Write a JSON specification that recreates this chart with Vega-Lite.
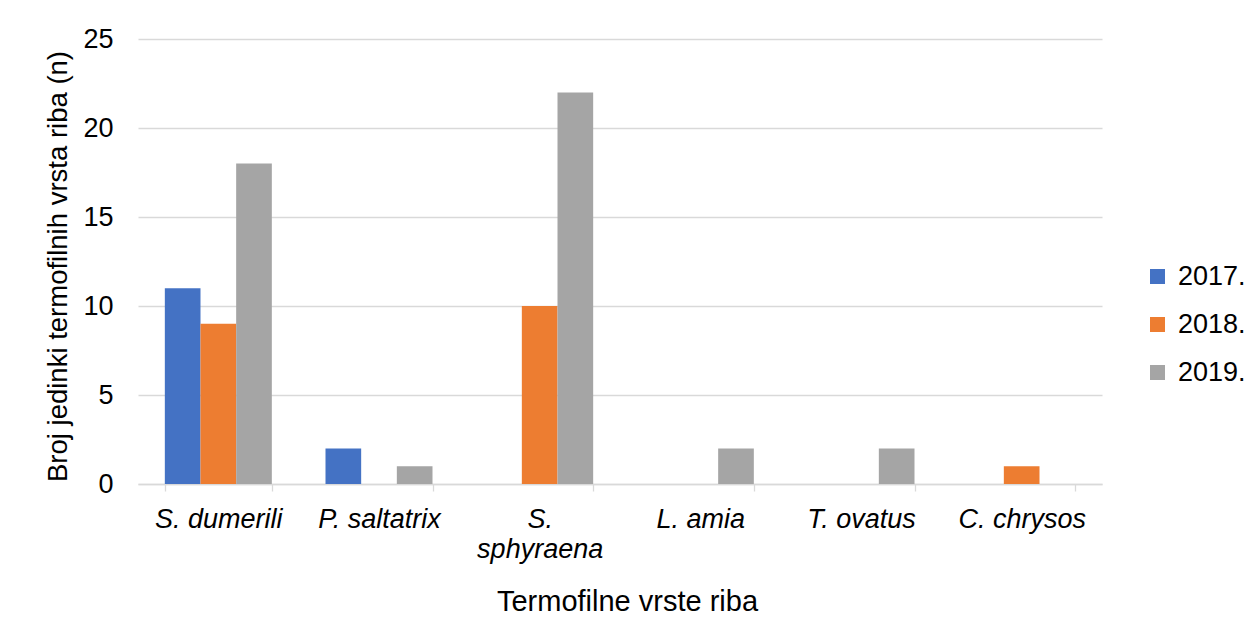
{
  "$schema": "https://vega.github.io/schema/vega-lite/v6.json",
  "width": 964,
  "height": 445,
  "autosize": {"type": "none"},
  "padding": {"left": 138, "top": 39, "right": 151, "bottom": 150},
  "background": "white",
  "config": {
    "font": "Liberation Sans",
    "view": {"stroke": null}
  },
  "data": {
    "values": [
      {"species": "S. dumerili", "year": "2017.", "count": 11},
      {"species": "S. dumerili", "year": "2018.", "count": 9},
      {"species": "S. dumerili", "year": "2019.", "count": 18},
      {"species": "P. saltatrix", "year": "2017.", "count": 2},
      {"species": "P. saltatrix", "year": "2018.", "count": 0},
      {"species": "P. saltatrix", "year": "2019.", "count": 1},
      {"species": "S. sphyraena", "year": "2017.", "count": 0},
      {"species": "S. sphyraena", "year": "2018.", "count": 10},
      {"species": "S. sphyraena", "year": "2019.", "count": 22},
      {"species": "L. amia", "year": "2017.", "count": 0},
      {"species": "L. amia", "year": "2018.", "count": 0},
      {"species": "L. amia", "year": "2019.", "count": 2},
      {"species": "T. ovatus", "year": "2017.", "count": 0},
      {"species": "T. ovatus", "year": "2018.", "count": 0},
      {"species": "T. ovatus", "year": "2019.", "count": 2},
      {"species": "C. chrysos", "year": "2017.", "count": 0},
      {"species": "C. chrysos", "year": "2018.", "count": 1},
      {"species": "C. chrysos", "year": "2019.", "count": 0}
    ]
  },
  "mark": {"type": "bar"},
  "encoding": {
    "x": {
      "field": "species",
      "type": "nominal",
      "sort": ["S. dumerili", "P. saltatrix", "S. sphyraena", "L. amia", "T. ovatus", "C. chrysos"],
      "scale": {"paddingInner": 0.334, "paddingOuter": 0.167},
      "axis": {
        "title": "Termofilne vrste riba",
        "titleFontSize": 29,
        "titleFontWeight": "normal",
        "titleColor": "#000000",
        "titleX": 489,
        "titleY": 126,
        "titleAlign": "center",
        "titleBaseline": "alphabetic",
        "labelAngle": 0,
        "labelFontSize": 27,
        "labelFontStyle": "italic",
        "labelColor": "#000000",
        "labelBaseline": "alphabetic",
        "labelPadding": 36,
        "labelLineHeight": 30,
        "labelExpr": "datum.value == 'S. sphyraena' ? ['S.', 'sphyraena'] : datum.value",
        "domain": true,
        "domainColor": "#d9d9d9",
        "domainWidth": 1.3,
        "ticks": true,
        "tickBand": "extent",
        "tickColor": "#d9d9d9",
        "tickWidth": 1.3,
        "tickSize": 7,
        "grid": false
      }
    },
    "xOffset": {
      "field": "year",
      "type": "nominal",
      "scale": {"paddingInner": 0, "paddingOuter": 0}
    },
    "y": {
      "field": "count",
      "type": "quantitative",
      "scale": {"domain": [0, 25], "nice": false},
      "axis": {
        "title": "Broj jedinki termofilnih vrsta riba (n)",
        "titleFontSize": 27.5,
        "titleFontWeight": "normal",
        "titleColor": "#000000",
        "titleX": -71.5,
        "titleY": 227,
        "titleAngle": -90,
        "titleAlign": "center",
        "titleBaseline": "alphabetic",
        "values": [0, 5, 10, 15, 20, 25],
        "labelFontSize": 27,
        "labelColor": "#000000",
        "labelPadding": 25,
        "domain": false,
        "ticks": false,
        "grid": true,
        "gridColor": "#d9d9d9",
        "gridWidth": 1.3
      }
    },
    "color": {
      "field": "year",
      "type": "nominal",
      "scale": {"domain": ["2017.", "2018.", "2019."], "range": ["#4472C4", "#ED7D31", "#A5A5A5"]},
      "legend": {
        "title": null,
        "orient": "none",
        "legendX": 1006,
        "legendY": 224,
        "padding": 0,
        "symbolType": "square",
        "symbolSize": 225,
        "symbolStrokeWidth": 0,
        "labelFontSize": 27,
        "labelColor": "#000000",
        "labelOffset": 7,
        "rowPadding": 20
      }
    }
  }
}
